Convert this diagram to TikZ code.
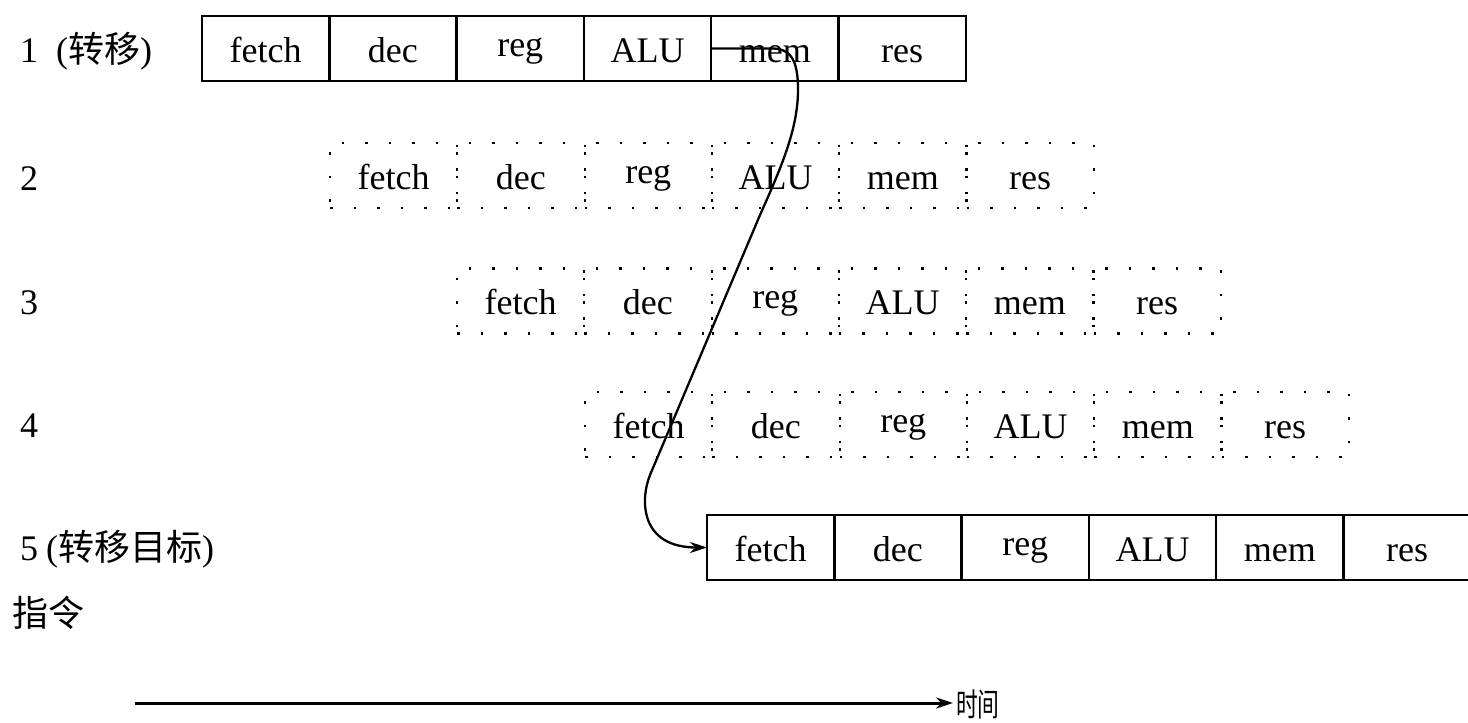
\documentclass[tikz,border=0pt]{standalone}
\usepackage{fontspec}
\setmainfont{Liberation Serif}
\newfontfamily\cjk{Noto Sans CJK SC}
\usetikzlibrary{arrows.meta}
\newcommand\regtxt{\raisebox{6pt}{reg}}
\begin{document}
\begin{tikzpicture}[x=1pt,y=-1pt,
  cell/.style={minimum width=127.3pt, minimum height=65pt, inner sep=0pt, outer sep=0pt,
    text height=27pt, text depth=0pt, font=\fontsize{36}{40}\selectfont, anchor=west},
  solidcell/.style={cell, draw=black, line width=2.5pt},
  ghostcell/.style={cell, draw=black, line width=2.2pt, dash pattern=on 2.5pt off 21pt},
  plaincell/.style={cell},
  lbl/.style={anchor=base west, inner sep=0pt, font=\fontsize{36}{40}\selectfont},
  flow/.style={line width=3pt, -{Stealth[length=17pt,width=11pt]}},
  branch/.style={line width=2.3pt, -{Stealth[length=17pt,width=11pt]}}]
\useasboundingbox (0,0) rectangle (1468,723);

\foreach \r/\x/\y/\sty in {1/202/48.5/solidcell, 2/330/175.5/ghostcell, 3/457/301/ghostcell, 4/585/424.5/ghostcell}{
  \foreach \t [count=\i] in {fetch,dec,\regtxt,ALU,mem,res}{
    \node[\sty] (r\r c\i) at ({\x+(\i-1)*127.3},\y) {\t};
  }
}
\foreach \t [count=\i] in {fetch,dec,\regtxt,ALU,mem}{
  \node[solidcell] (r5c\i) at ({707+(\i-1)*127.3},547.5) {\t};
}
\node[plaincell] (r5c6) at ({707+5*127.3},547.5) {res};
\draw[line width=2.5pt] (r5c6.north west) -- ++(140,0);
\draw[line width=2.5pt] (r5c6.south west) -- ++(140,0);

\node[lbl] (l1) at (20,62) {1\hspace{18pt}({\cjk 转移})};
\node[lbl] (l2) at (20,190) {2};
\node[lbl] (l3) at (20,314) {3};
\node[lbl] (l4) at (20,437) {4};
\node[lbl] (l5) at (20,560) {5\hspace{8pt}({\cjk 转移目标})};
\node[lbl] (l6) at (12,626) {\cjk 指令};

\draw[branch] (r1c5.west) -- (772,48.5) .. controls (792,48.5) and (798,62) .. (798,90)
  .. controls (798,130) and (780,170) .. (760,215) -- (650,475)
  .. controls (640,500) and (640,547.5) .. (r5c1.west);

\coordinate (t0) at (135,703);
\node[lbl, font=\fontsize{32}{36}\selectfont] (tl) at (956,716) {\scalebox{0.68}[1]{\cjk 时间}};
\draw[flow] (t0) -- ([xshift=-3pt]t0 -| tl.west);
\end{tikzpicture}
\end{document}
